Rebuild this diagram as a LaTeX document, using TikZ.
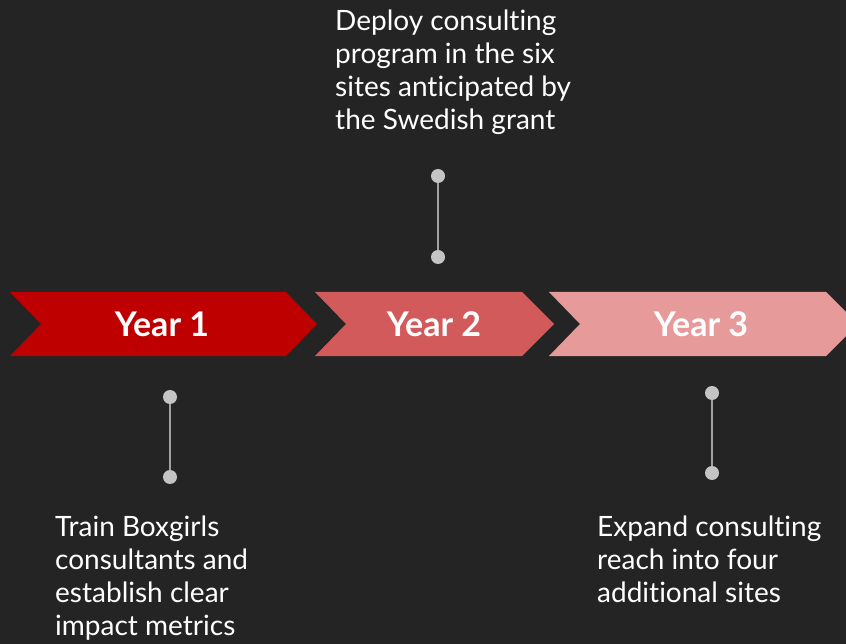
\documentclass[tikz,border=0pt]{standalone}
\usepackage{fontspec}
\setmainfont{Lato}[Ligatures=NoCommon]
\definecolor{bg}{HTML}{242424}
\definecolor{yearone}{HTML}{BE0000}
\definecolor{yeartwo}{HTML}{D35A5B}
\definecolor{yearthree}{HTML}{E69A9A}
\definecolor{dotgray}{HTML}{C4C4C4}
\definecolor{linegray}{HTML}{A0A0A0}
\tikzset{
  dot/.style={circle, fill=dotgray, inner sep=0pt, minimum size=14pt},
  stem/.style={draw=linegray, line width=1.6pt},
  yearlabel/.style={text=white, font=\bfseries\fontsize{34}{40}\selectfont},
  note/.style={text=white, align=left, inner sep=0pt, anchor=base west,
    font=\fontsize{28}{33}\selectfont},
}
\begin{document}
\begin{tikzpicture}[x=1pt,y=-1pt]
  \fill[bg] (0,0) rectangle (846,644);
  \useasboundingbox (0,0) rectangle (846,644);
  % chevrons
  \fill[yearone] (10,292) -- (286,292) -- (317,324) -- (286,356) -- (10,356) -- (41,324) -- cycle;
  \fill[yeartwo] (315,292) -- (522,292) -- (554,324) -- (522,356) -- (315,356) -- (346,324) -- cycle;
  \fill[yearthree] (549,292) -- (826,292) -- (858,324) -- (826,356) -- (549,356) -- (580,324) -- cycle;
  \node[yearlabel] (year1) at (162,324) {Year 1};
  \node[yearlabel] (year2) at (434,324) {Year 2};
  \node[yearlabel] (year3) at (701,324) {Year 3};
  % stems
  \node[dot] (top2) at (438,176) {};
  \node[dot] (bot2) at (438,257) {};
  \draw[stem] (top2) -- (bot2);
  \node[dot] (top1) at (170,397) {};
  \node[dot] (bot1) at (170,477) {};
  \draw[stem] (top1) -- (bot1);
  \node[dot] (top3) at (712,393) {};
  \node[dot] (bot3) at (712,473) {};
  \draw[stem] (top3) -- (bot3);
  % notes (base = last line)
  \node[note] (note2) at (335,130) {Deploy consulting\\program in the six\\sites anticipated by\\the Swedish grant};
  \node[note] (note1) at (55,635) {Train Boxgirls\\consultants and\\establish clear\\impact metrics};
  \node[note] (note3) at (597,602) {Expand consulting\\reach into four\\additional sites};
\end{tikzpicture}
\end{document}
